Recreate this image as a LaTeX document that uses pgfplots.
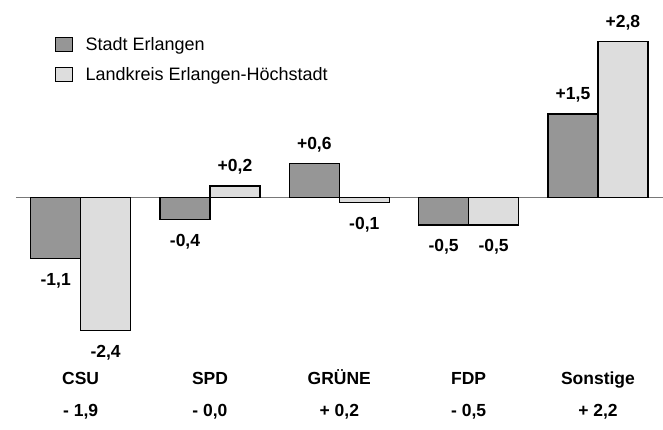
\documentclass[border=0pt]{standalone}
\usepackage{fontspec}
\setmainfont{Liberation Sans}
\usepackage{pgfplots}
\usepackage{pgfplotstable}
\pgfplotsset{compat=1.18}
\definecolor{darkbar}{RGB}{150,150,150}
\definecolor{lightbar}{RGB}{221,221,221}
\definecolor{zeroline}{RGB}{120,120,120}

\pgfplotstableread{
x y
0 -1.1
1 -0.4
2 0.6
3 -0.5
4 1.5
}\stadt

\pgfplotstableread{
x y
0 -2.4
1 0.2
2 -0.1
3 -0.5
4 2.8
}\landkreis

\begin{document}
\begin{tikzpicture}
\begin{axis}[
  scale only axis,
  width=663pt, height=430pt,
  xmin=-0.6237, xmax=4.5,
  ymin=-4.193, ymax=3.555,
  axis line style={draw=none},
  ytick=\empty,
  xtick={0,1,2,3,4},
  xticklabels={{CSU\\- 1,9},{SPD\\- 0,0},{GRÜNE\\+ 0,2},{FDP\\- 0,5},{Sonstige\\+ 2,2}},
  major tick length=0pt,
  xtick style={draw=none},
  xticklabel style={align=center, anchor=south, yshift=7.5pt,
    font=\bfseries\fontsize{17.5}{31.6}\selectfont},
  clip=false,
  ybar=0pt, bar width=50pt,
  legend style={draw=none, fill=none, at={(0,1)}, anchor=north west,
    xshift=55pt, yshift=-37pt, inner sep=0pt, outer sep=0pt,
    row sep=15pt,
    nodes={inner sep=0pt, anchor=west, font=\fontsize{18}{21}\selectfont}},
  legend cell align=left,
  legend image code/.code={\draw[#1, draw=black, line width=1.2pt] (0pt,-7pt) rectangle (17pt,7pt); \path (29.5pt,0pt);},
  point meta=y,
  nodes near coords={\pgfmathprintnumber[fixed,fixed zerofill,precision=1,use comma,showpos,assume math mode=true]{\pgfplotspointmeta}},
  nodes near coords align={vertical},
  every node near coord/.append style={font=\bfseries\fontsize{17.5}{20}\selectfont,
    inner xsep=0pt, inner ysep=13.75pt, text height=12.5pt, text depth=0pt},
]
\draw[zeroline, line width=0.8pt] (axis cs:-0.5,0) -- (axis cs:4.5,0);
\addplot[fill=darkbar, draw=black, line width=1.2pt]
  table[x=x, y=y] {\stadt};
\addplot[fill=lightbar, draw=black, line width=1.2pt]
  table[x=x, y=y] {\landkreis};
\legend{Stadt Erlangen, Landkreis Erlangen-Höchstadt}
\end{axis}
\end{tikzpicture}
\end{document}
